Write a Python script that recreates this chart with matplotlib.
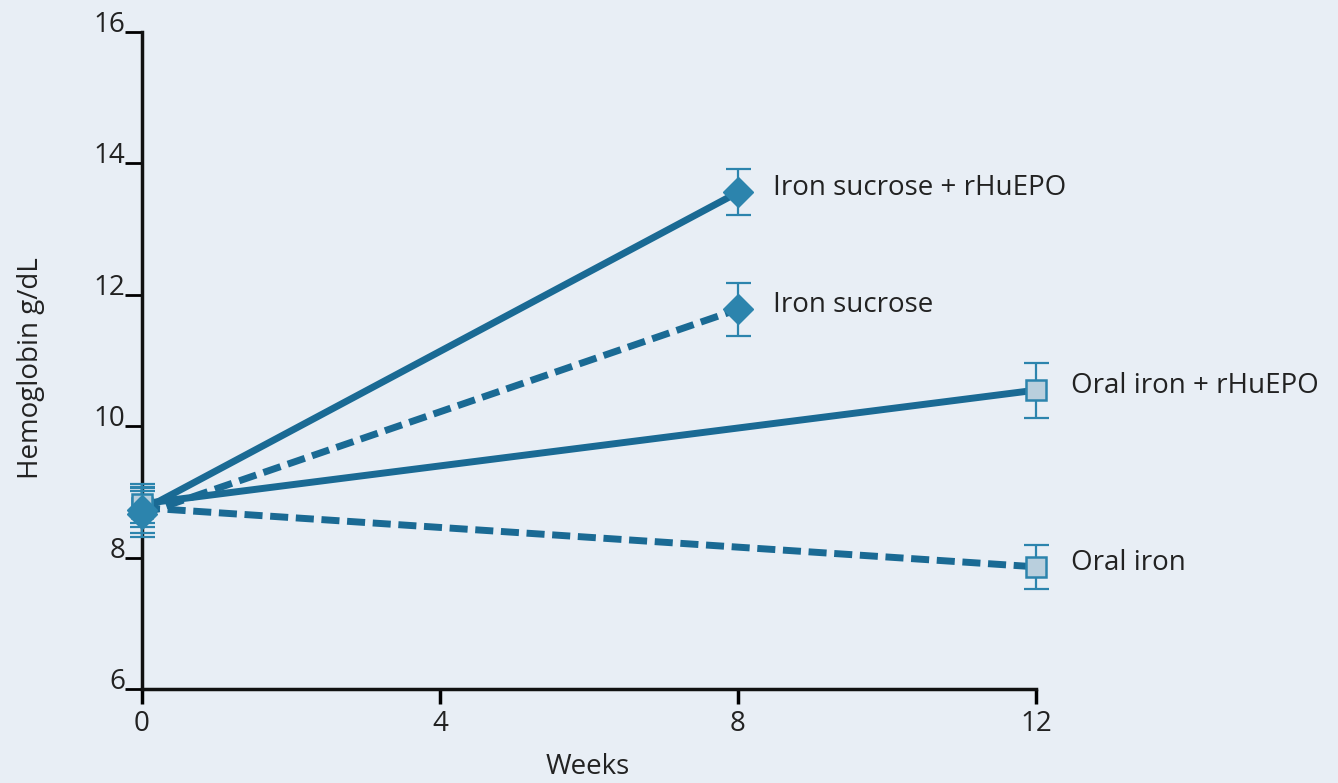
import matplotlib
matplotlib.use("Agg")
import matplotlib.pyplot as plt

# data
weeks_short = [0, 8]
weeks_long = [0, 12]

iv_epo = [8.72, 13.56]
iv_epo_err = [0.35, 0.35]
iv = [8.66, 11.78]
iv_err = [0.35, 0.40]
oral_epo = [8.82, 10.55]
oral_epo_err = [0.3, 0.42]
oral = [8.76, 7.86]
oral_err = [0.3, 0.33]

labels = ["Iron sucrose + rHuEPO", "Iron sucrose", "Oral iron + rHuEPO", "Oral iron"]

x_ticks = [0, 4, 8, 12]
y_ticks = [6, 8, 10, 12, 14, 16]

bg = "#e8eef5"
line_c = "#1a6a94"
dia_c = "#2c84ad"
sq_face = "#b9cfdd"
txt_c = "#222222"

plt.rcParams['font.family'] = ['Open Sans', 'DejaVu Sans']

fig = plt.figure(figsize=(13.38, 7.83), dpi=100, facecolor=bg)
ax = fig.add_axes([0.1061, 0.12, 0.6682, 0.839])
ax.set_facecolor(bg)

lw = 5
dash = (0, (2.6, 1.1))
ax.plot(weeks_long, oral, color=line_c, lw=lw, ls=dash, zorder=2)
ax.plot(weeks_long, oral_epo, color=line_c, lw=lw, zorder=2)
ax.plot(weeks_short, iv, color=line_c, lw=lw, ls=dash, zorder=2)
ax.plot(weeks_short, iv_epo, color=line_c, lw=lw, zorder=2)

ekw = dict(fmt="none", ecolor=dia_c, elinewidth=1.6, capsize=9, capthick=1.6, zorder=3)
for x, y, e in [(weeks_long, oral, oral_err), (weeks_long, oral_epo, oral_epo_err),
                (weeks_short, iv, iv_err), (weeks_short, iv_epo, iv_epo_err)]:
    ax.errorbar(x, y, yerr=e, **ekw)

ax.plot(weeks_long, oral, ls="none", marker="s", ms=15, mfc=sq_face, mec=dia_c, mew=1.8, zorder=4)
ax.plot(weeks_long, oral_epo, ls="none", marker="s", ms=15, mfc=sq_face, mec=dia_c, mew=1.8, zorder=4)
ax.plot(weeks_short, iv, ls="none", marker="D", ms=15, mfc=dia_c, mec=dia_c, zorder=5)
ax.plot(weeks_short, iv_epo, ls="none", marker="D", ms=15, mfc=dia_c, mec=dia_c, zorder=5)

# series labels next to the end points
ends = [(8, iv_epo[1]), (8, iv[1]), (12, oral_epo[1]), (12, oral[1])]
for (x, y), lab in zip(ends, labels):
    ax.text(x + 0.47, y + 0.06, lab, fontsize=20, color=txt_c, va="center", ha="left")

ax.set_xlim(0, 12)
ax.set_ylim(6, 16)
ax.set_xticks(x_ticks)
ax.set_yticks(y_ticks)
ax.set_xticklabels([str(t) for t in x_ticks], fontsize=20, color=txt_c)
ax.set_yticklabels([str(t) for t in y_ticks], fontsize=20, color=txt_c, va="baseline")

for s in ["top", "right"]:
    ax.spines[s].set_visible(False)
for s in ["left", "bottom"]:
    ax.spines[s].set_linewidth(2.5)
    ax.spines[s].set_color("#111111")

ax.tick_params(axis="x", direction="out", length=11, width=2.5, pad=4)
ax.tick_params(axis="y", direction="out", length=12, width=2, pad=0)

fig.text(0.4395, 0.02, "Weeks", fontsize=20, color=txt_c, ha="center", va="center")
fig.text(0.023, 0.53, "Hemoglobin g/dL", fontsize=20, color=txt_c, ha="center", va="center",
         rotation=90)

for ln in ax.lines:
    ln.set_clip_on(False)
for c in ax.collections:
    c.set_clip_on(False)

fig.savefig("out.png", dpi=100, facecolor=bg)
